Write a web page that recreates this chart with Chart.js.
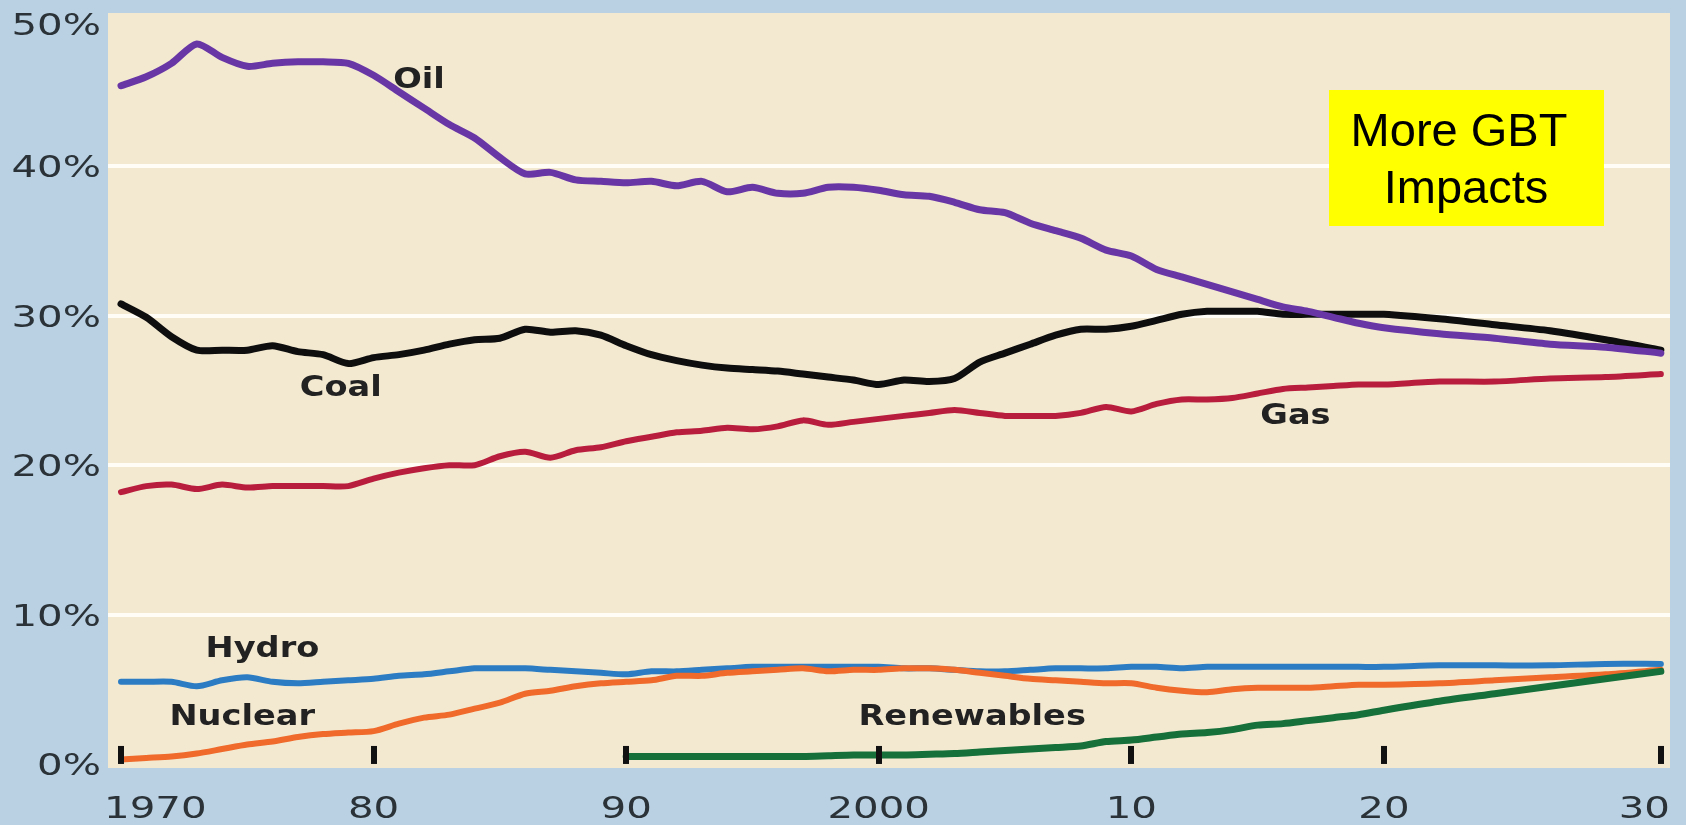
<!DOCTYPE html>
<html>
<head>
<meta charset="utf-8">
<title>World primary energy shares by fuel, 1970-2030</title>
<script src="https://cdn.jsdelivr.net/npm/chart.js@4.4.1/dist/chart.umd.min.js"></script>
<style>
  html, body { margin: 0; padding: 0; background: #b9d1e2; }
  #wrap { width: 1686px; height: 825px; }
  canvas { display: block; }
</style>
</head>
<body>
<div id="wrap"><canvas id="chart" width="1686" height="825"></canvas></div>
<script>
// Years: annual to 2020, then every second year of the projection
const years = [
  1970, 1971, 1972, 1973, 1974, 1975, 1976, 1977, 1978, 1979,
  1980, 1981, 1982, 1983, 1984, 1985, 1986, 1987, 1988, 1989,
  1990, 1991, 1992, 1993, 1994, 1995, 1996, 1997, 1998, 1999,
  2000, 2001, 2002, 2003, 2004, 2005, 2006, 2007, 2008, 2009,
  2010, 2011, 2012, 2013, 2014, 2015, 2016, 2017, 2018, 2019,
  2020, 2022, 2024, 2026, 2028, 2030
];

// Share of world primary energy, %
const oil = [
  45.4, 46.0, 46.9, 48.2, 47.3, 46.7, 46.9, 47.0, 47.0, 46.9,
  46.1, 45.0, 43.9, 42.8, 41.9, 40.6, 39.5, 39.6, 39.1, 39.0,
  38.9, 39.0, 38.7, 39.0, 38.3, 38.6, 38.2, 38.2, 38.6, 38.6,
  38.4, 38.1, 38.0, 37.6, 37.1, 36.9, 36.2, 35.7, 35.2, 34.4,
  34.0, 33.1, 32.6, 32.1, 31.6, 31.1, 30.6, 30.3, 29.9, 29.5,
  29.2, 28.8, 28.5, 28.1, 27.9, 27.5
];
const coal = [
  30.8, 29.9, 28.6, 27.7, 27.7, 27.7, 28.0, 27.6, 27.4, 26.8,
  27.2, 27.4, 27.7, 28.1, 28.4, 28.5, 29.1, 28.9, 29.0, 28.7,
  28.0, 27.4, 27.0, 26.7, 26.5, 26.4, 26.3, 26.1, 25.9, 25.7,
  25.4, 25.7, 25.6, 25.8, 26.9, 27.5, 28.1, 28.7, 29.1, 29.1,
  29.3, 29.7, 30.1, 30.3, 30.3, 30.3, 30.1, 30.1, 30.1, 30.1,
  30.1, 29.8, 29.4, 29.0, 28.4, 27.7
];
const gas = [
  18.2, 18.6, 18.7, 18.4, 18.7, 18.5, 18.6, 18.6, 18.6, 18.6,
  19.1, 19.5, 19.8, 20.0, 20.0, 20.6, 20.9, 20.5, 21.0, 21.2,
  21.6, 21.9, 22.2, 22.3, 22.5, 22.4, 22.6, 23.0, 22.7, 22.9,
  23.1, 23.3, 23.5, 23.7, 23.5, 23.3, 23.3, 23.3, 23.5, 23.9,
  23.6, 24.1, 24.4, 24.4, 24.5, 24.8, 25.1, 25.2, 25.3, 25.4,
  25.4, 25.6, 25.6, 25.8, 25.9, 26.1
];
const hydro = [
  5.5, 5.5, 5.5, 5.2, 5.6, 5.8, 5.5, 5.4, 5.5, 5.6,
  5.7, 5.9, 6.0, 6.2, 6.4, 6.4, 6.4, 6.3, 6.2, 6.1,
  6.0, 6.2, 6.2, 6.3, 6.4, 6.5, 6.5, 6.5, 6.5, 6.5,
  6.5, 6.4, 6.4, 6.3, 6.2, 6.2, 6.3, 6.4, 6.4, 6.4,
  6.5, 6.5, 6.4, 6.5, 6.5, 6.5, 6.5, 6.5, 6.5, 6.5,
  6.5, 6.6, 6.6, 6.6, 6.7, 6.7
];
const nuclear = [
  0.3, 0.4, 0.5, 0.7, 1.0, 1.3, 1.5, 1.8, 2.0, 2.1,
  2.2, 2.7, 3.1, 3.3, 3.7, 4.1, 4.7, 4.9, 5.2, 5.4,
  5.5, 5.6, 5.9, 5.9, 6.1, 6.2, 6.3, 6.4, 6.2, 6.3,
  6.3, 6.4, 6.4, 6.3, 6.1, 5.9, 5.7, 5.6, 5.5, 5.4,
  5.4, 5.1, 4.9, 4.8, 5.0, 5.1, 5.1, 5.1, 5.2, 5.3,
  5.3, 5.4, 5.6, 5.8, 6.0, 6.3
];
const renewables = [
  null, null, null, null, null, null, null, null, null, null,
  null, null, null, null, null, null, null, null, null, null,
  0.5, 0.5, 0.5, 0.5, 0.5, 0.5, 0.5, 0.5, 0.55, 0.6,
  0.6, 0.6, 0.65, 0.7, 0.8, 0.9, 1.0, 1.1, 1.2, 1.5,
  1.6, 1.8, 2.0, 2.1, 2.3, 2.6, 2.7, 2.9, 3.1, 3.3,
  3.6, 4.2, 4.7, 5.2, 5.7, 6.2
];

// Axis ticks
const yearTicks = [1970, 1980, 1990, 2000, 2010, 2020, 2030];
const yearTickLabels = ['1970', '80', '90', '2000', '10', '20', '30'];
const shareTicks = [0, 10, 20, 30, 40, 50];
const shareTickLabels = ['0%', '10%', '20%', '30%', '40%', '50%'];

// Line labels placed at (year, share)
const seriesLabels = [
  { text: 'Oil', x: 1981.8, y: 45.9 },
  { text: 'Coal', x: 1978.7, y: 25.3 },
  { text: 'Gas', x: 2016.5, y: 23.4 },
  { text: 'Hydro', x: 1975.6, y: 7.8 },
  { text: 'Nuclear', x: 1974.8, y: 3.3 },
  { text: 'Renewables', x: 2003.7, y: 3.3 }
];

const noteLines = ['More GBT', 'Impacts'];

// A linear year axis whose last decade (the projection) is drawn a little wider
class StretchedYearScale extends Chart.LinearScale {
  static id = 'stretchedYear';
  static defaults = Chart.LinearScale.defaults;
  warp(v) {
    const from = this.options.stretchFrom, k = this.options.stretchFactor;
    return v <= from ? v : from + (v - from) * k;
  }
  unwarp(u) {
    const from = this.options.stretchFrom, k = this.options.stretchFactor;
    return u <= from ? u : from + (u - from) / k;
  }
  getPixelForValue(value) {
    if (value === null || value === undefined) return NaN;
    const a = this.warp(this.min), b = this.warp(this.max);
    return this.getPixelForDecimal((this.warp(value) - a) / (b - a));
  }
  getValueForPixel(pixel) {
    const a = this.warp(this.min), b = this.warp(this.max);
    return this.unwarp(a + this.getDecimalForPixel(pixel) * (b - a));
  }
}
Chart.register(StretchedYearScale);

const toPoints = vals => years.map((x, i) => ({ x, y: vals[i] }));

const AXIS_FONT = '31px "DejaVu Sans"';
const LABEL_FONT = 'bold 28px "DejaVu Sans"';
const NOTE_FONT = '47px "Liberation Sans", Arial, sans-serif';

function wideText(ctx, text, x, y, align, sx) {
  ctx.save();
  ctx.translate(x, y);
  ctx.scale(sx, 1);
  ctx.textAlign = align;
  ctx.fillText(text, 0, 0);
  ctx.restore();
}

const panelPlugin = {
  id: 'panel',
  beforeDraw(chart) {
    const { ctx, chartArea: a } = chart;
    ctx.save();
    ctx.fillStyle = '#b9d1e2';
    ctx.fillRect(0, 0, chart.width, chart.height);
    ctx.fillStyle = '#f3e9d1';
    ctx.fillRect(a.left, a.top, a.right - a.left, a.bottom - a.top);
    ctx.restore();
  }
};

const annotatePlugin = {
  id: 'annotate',
  afterDatasetsDraw(chart) {
    const { ctx, chartArea: a } = chart;
    const xs = chart.scales.x, ys = chart.scales.y;
    const y0 = ys.getPixelForValue(0);
    const stretch = 1.3;
    ctx.save();

    // decade tick marks standing on the baseline
    ctx.fillStyle = '#111';
    yearTicks.forEach(yr => {
      const px = xs.getPixelForValue(yr);
      ctx.fillRect(Math.round(px - 3), y0 - 18, 6, 18);
    });

    // year labels, kept inside the panel's width
    ctx.font = AXIS_FONT;
    ctx.fillStyle = '#2b3338';
    ctx.textBaseline = 'alphabetic';
    yearTicks.forEach((yr, i) => {
      const t = yearTickLabels[i];
      const w = ctx.measureText(t).width * stretch;
      let cx = xs.getPixelForValue(yr);
      cx = Math.max(cx, a.left - 4 + w / 2);
      cx = Math.min(cx, a.right - w / 2);
      wideText(ctx, t, cx, 818, 'center', stretch);
    });

    // share labels, right-aligned against the panel
    shareTicks.forEach((v, i) => {
      let py = ys.getPixelForValue(v);
      py = Math.max(py, a.top + 11);
      wideText(ctx, shareTickLabels[i], a.left - 7, py + 11, 'right', stretch);
    });

    // line names
    ctx.font = LABEL_FONT;
    ctx.fillStyle = '#222';
    seriesLabels.forEach(l => {
      wideText(ctx, l.text, xs.getPixelForValue(l.x), ys.getPixelForValue(l.y) + 10, 'center', 1.2);
    });

    // yellow note box
    ctx.fillStyle = '#ffff00';
    ctx.fillRect(1329, 90, 275, 136);
    ctx.font = NOTE_FONT;
    ctx.fillStyle = '#000';
    ctx.textAlign = 'center';
    ctx.fillText(noteLines[0], 1459, 146);
    ctx.fillText(noteLines[1], 1466, 203);
    ctx.restore();
  }
};

const line = (label, vals, color, width) => ({
  label,
  data: toPoints(vals),
  borderColor: color,
  backgroundColor: color,
  borderWidth: width,
  pointRadius: 0,
  tension: 0.25,
  spanGaps: false,
  borderCapStyle: 'round',
  borderJoinStyle: 'round',
  fill: false
});

new Chart(document.getElementById('chart'), {
  type: 'line',
  data: {
    datasets: [
      line('Renewables', renewables, '#15703a', 7),
      line('Nuclear', nuclear, '#ef6a2b', 6),
      line('Hydro', hydro, '#2b7cc3', 6),
      line('Oil', oil, '#6936a6', 7),
      line('Coal', coal, '#0e0e0e', 7),
      line('Gas', gas, '#b91d3d', 6)
    ]
  },
  options: {
    responsive: false,
    animation: false,
    devicePixelRatio: 1,
    layout: { padding: { top: 13, right: 16, left: 0, bottom: 0 } },
    plugins: {
      legend: { display: false },
      tooltip: { enabled: false },
      title: { display: false }
    },
    scales: {
      x: {
        type: 'stretchedYear',
        stretchFrom: 2020,
        stretchFactor: 1.0966,
        min: 1969.485,
        max: 2030.33,
        grid: { display: false },
        border: { display: false },
        ticks: { display: false },
        afterFit: s => { s.height = 57; }
      },
      y: {
        min: -0.27,
        max: 50.27,
        ticks: { display: false, stepSize: 10, includeBounds: false },
        border: { display: false },
        grid: {
          drawTicks: false,
          lineWidth: 4,
          color: c => (c.tick && c.tick.value > 0 && c.tick.value < 50) ? '#fffdf6' : 'rgba(0,0,0,0)'
        },
        afterFit: s => { s.width = 108; }
      }
    }
  },
  plugins: [panelPlugin, annotatePlugin]
});
</script>
</body>
</html>
